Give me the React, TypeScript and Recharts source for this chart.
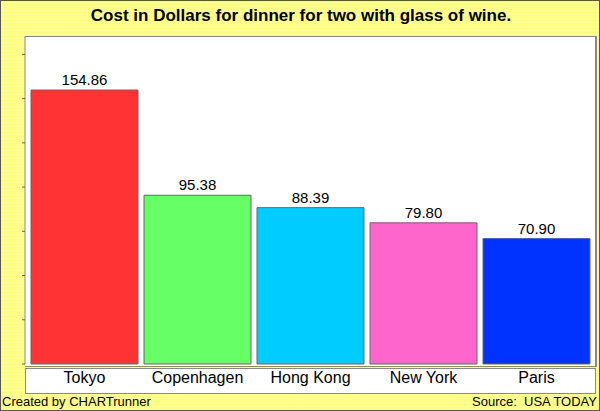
import { BarChart, Bar, XAxis, YAxis, LabelList, Cell } from "recharts";

const cities = ["Tokyo", "Copenhagen", "Hong Kong", "New York", "Paris"];
const costs = [154.86, 95.38, 88.39, 79.8, 70.9];
const barColors = ["#FF3333", "#66FF66", "#00CCFF", "#FF66CC", "#0033FF"];
const yTicks = [0, 25, 50, 75, 100, 125, 150, 175];

const data = cities.map((name, i) => ({ name, cost: costs[i] }));

const FONT = "'Liberation Sans', Arial, sans-serif";

export default function App() {
  return (
    <div
      style={{
        position: "absolute",
        left: 0,
        top: 0,
        width: 600,
        height: 411,
        boxSizing: "border-box",
        border: "1px solid #555",
        background: "repeating-linear-gradient(0deg, #FFFF80 0px, #FFFF80 3px, #FFFFA8 3px, #FFFFA8 4px)",
        fontFamily: FONT,
        overflow: "hidden",
      }}
    >
      {/* plot area */}
      <div
        style={{
          position: "absolute",
          left: 24,
          top: 35,
          width: 570,
          height: 329,
          background: "#fff",
          borderTop: "1px solid #888",
          borderRight: "2px solid #888",
          borderBottom: "1px solid #888",
        }}
      />
      {/* category band */}
      <div
        style={{
          position: "absolute",
          left: 24,
          top: 367,
          width: 571,
          height: 26,
          background: "#fff",
          border: "1px solid #888",
          boxSizing: "border-box",
        }}
      />
      <div
        style={{
          position: "absolute",
          left: 0,
          top: 5,
          width: 600,
          textAlign: "center",
          fontWeight: "bold",
          fontSize: 17,
          color: "#000",
          lineHeight: "20px",
        }}
      >
        Cost in Dollars for dinner for two with glass of wine.
      </div>
      <div style={{ position: "absolute", left: 1, top: 393, fontSize: 13, lineHeight: "15px" }}>
        Created by CHARTrunner
      </div>
      <div style={{ position: "absolute", right: 2, top: 393, fontSize: 13, lineHeight: "15px", whiteSpace: "pre" }}>
        {"Source:  USA TODAY"}
      </div>
      <div style={{ position: "absolute", left: -1, top: -1 }}>
        <BarChart
          width={600}
          height={411}
          data={data}
          margin={{ top: 36, right: 5, bottom: 17, left: 0 }}
          barCategoryGap={3}
        >
          <XAxis
            dataKey="name"
            height={30}
            axisLine={false}
            tickLine={false}
            padding={{ left: 3, right: 2 }}
            tick={{ fontSize: 16, fill: "#000", fontFamily: FONT }}
            interval={0}
          />
          <YAxis
            width={25}
            domain={[0, 185.4]}
            ticks={yTicks}
            tickSize={3}
            tickFormatter={() => ""}
            axisLine={{ stroke: "#888" }}
            tickLine={{ stroke: "#666" }}
          />
          <Bar dataKey="cost" stroke="#666" strokeWidth={1} isAnimationActive={false}>
            {data.map((d, i) => (
              <Cell key={d.name} fill={barColors[i]} />
            ))}
            <LabelList
              dataKey="cost"
              position="top"
              offset={5}
              formatter={(v: any) => Number(v).toFixed(2)}
              style={{ fontSize: 15, fill: "#000", fontFamily: FONT }}
            />
          </Bar>
        </BarChart>
      </div>
    </div>
  );
}
